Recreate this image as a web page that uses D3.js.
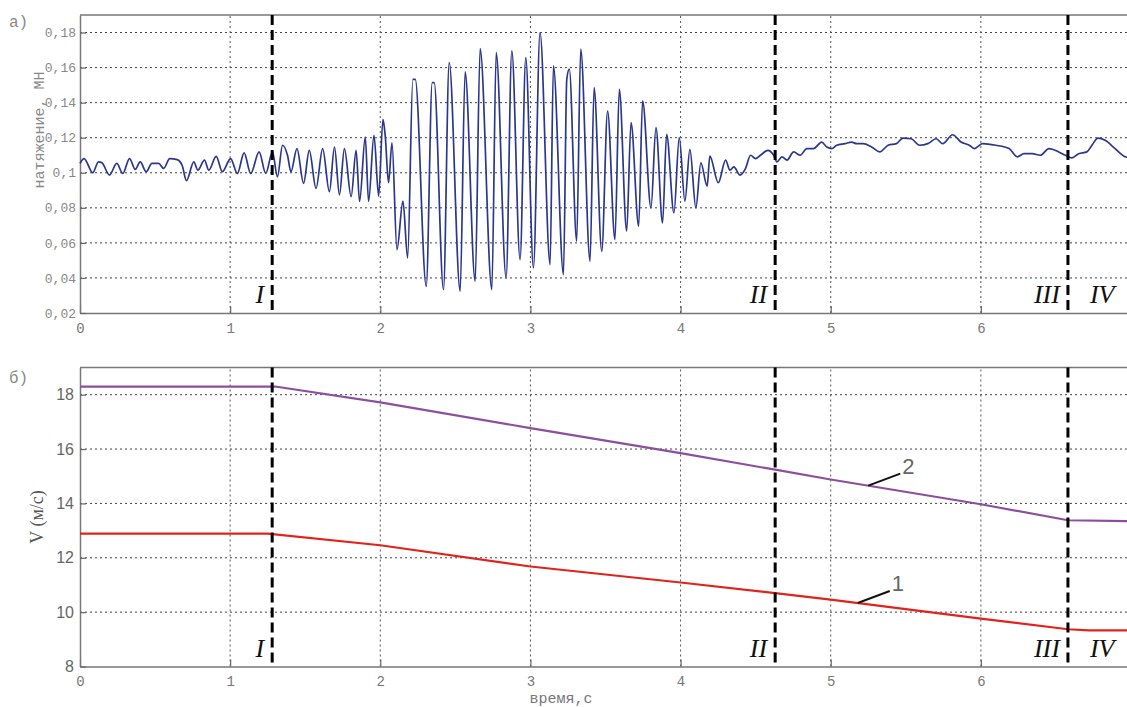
<!DOCTYPE html>
<html>
<head>
<meta charset="utf-8">
<script src="https://cdn.jsdelivr.net/npm/d3@7"></script>
<style>
  body { margin: 0; background: #fff; }
  svg { display: block; }
</style>
</head>
<body>
<svg id="chart" width="1127" height="707"></svg>
<script>
// ---- data ----------------------------------------------------------------
// (a) rope tension, MN, against time, s
const tensionTime = [
  0.000, 0.027, 0.085, 0.123, 0.145, 0.196, 0.245, 0.285, 0.330, 0.368,
  0.401, 0.441, 0.479, 0.524, 0.557, 0.598, 0.647, 0.680, 0.709, 0.758,
  0.785, 0.829, 0.858, 0.907, 0.948, 1.003, 1.048, 1.093, 1.137, 1.193,
  1.237, 1.282, 1.315, 1.349, 1.382, 1.405, 1.445, 1.489, 1.527, 1.572,
  1.616, 1.661, 1.695, 1.728, 1.761, 1.806, 1.839, 1.862, 1.900, 1.922,
  1.958, 1.989, 2.018, 2.033, 2.055, 2.078, 2.111, 2.151, 2.182, 2.217,
  2.233, 2.306, 2.346, 2.359, 2.421, 2.459, 2.532, 2.565, 2.632, 2.665,
  2.743, 2.772, 2.838, 2.876, 2.931, 2.969, 3.020, 3.064, 3.131, 3.153,
  3.220, 3.242, 3.259, 3.308, 3.335, 3.397, 3.424, 3.475, 3.514, 3.563,
  3.592, 3.641, 3.670, 3.721, 3.747, 3.803, 3.836, 3.880, 3.907, 3.956,
  3.991, 4.029, 4.062, 4.102, 4.135, 4.177, 4.195, 4.251, 4.300, 4.329,
  4.355, 4.395, 4.433, 4.466, 4.499, 4.532, 4.581, 4.620, 4.642, 4.675,
  4.709, 4.753, 4.797, 4.841, 4.885, 4.940, 4.974, 5.007, 5.040, 5.095,
  5.139, 5.172, 5.216, 5.272, 5.327, 5.382, 5.437, 5.481, 5.536, 5.592,
  5.647, 5.702, 5.746, 5.812, 5.868, 5.923, 5.956, 6.011, 6.099, 6.188,
  6.243, 6.287, 6.342, 6.397, 6.453, 6.519, 6.563, 6.607, 6.651, 6.706,
  6.740, 6.779, 6.828, 6.894, 6.962, 7.000
];
const tensionValue = [
  0.1053, 0.1081, 0.1000, 0.1062, 0.1058, 0.0987, 0.1053, 0.0996, 0.1081, 0.1019,
  0.1062, 0.1006, 0.1053, 0.1053, 0.1025, 0.1081, 0.1075, 0.1043, 0.0955, 0.1062,
  0.1015, 0.1072, 0.1015, 0.1094, 0.1006, 0.1081, 0.0996, 0.1113, 0.0996, 0.1119,
  0.0996, 0.1119, 0.0977, 0.1157, 0.1100, 0.1006, 0.1138, 0.0940, 0.1128, 0.0911,
  0.1138, 0.0892, 0.1147, 0.0874, 0.1138, 0.0864, 0.1128, 0.0836, 0.1204, 0.0836,
  0.1213, 0.0867, 0.1305, 0.1210, 0.0943, 0.1171, 0.0562, 0.0838, 0.0514, 0.1533,
  0.1533, 0.0352, 0.1514, 0.1514, 0.0333, 0.1629, 0.0324, 0.1575, 0.0381, 0.1709,
  0.0333, 0.1686, 0.0400, 0.1695, 0.0505, 0.1657, 0.0457, 0.1800, 0.0476, 0.1610,
  0.0419, 0.1533, 0.1591, 0.0610, 0.1705, 0.0495, 0.1486, 0.0552, 0.1352, 0.0619,
  0.1476, 0.0667, 0.1286, 0.0695, 0.1410, 0.0800, 0.1257, 0.0714, 0.1219, 0.0771,
  0.1200, 0.0838, 0.1133, 0.0800, 0.1057, 0.0924, 0.1095, 0.0943, 0.1072, 0.1015,
  0.1034, 0.0987, 0.1025, 0.1100, 0.1081, 0.1100, 0.1128, 0.1100, 0.1062, 0.1091,
  0.1072, 0.1119, 0.1100, 0.1138, 0.1138, 0.1175, 0.1147, 0.1138, 0.1157, 0.1166,
  0.1175, 0.1166, 0.1166, 0.1147, 0.1119, 0.1157, 0.1166, 0.1198, 0.1194, 0.1157,
  0.1166, 0.1194, 0.1166, 0.1217, 0.1175, 0.1157, 0.1138, 0.1166, 0.1157, 0.1138,
  0.1091, 0.1109, 0.1109, 0.1100, 0.1138, 0.1119, 0.1100, 0.1085, 0.1109, 0.1119,
  0.1157, 0.1198, 0.1185, 0.1138, 0.1091, 0.1085
];

// (б) speed, m/s: curve 1 (red) and curve 2 (purple)
const speedTime1  = [0, 1.25, 2, 3, 4, 4.63, 5, 6, 6.58, 6.72, 7];
const speedValue1 = [12.89, 12.89, 12.46, 11.68, 11.09, 10.70, 10.46, 9.76, 9.37, 9.33, 9.33];
const speedTime2  = [0, 1.30, 2, 3, 4, 4.63, 5, 6, 6.58, 7];
const speedValue2 = [18.30, 18.30, 17.72, 16.77, 15.85, 15.24, 14.88, 13.97, 13.38, 13.35];

// phase boundaries and their labels
const phaseTimes  = [1.28, 4.63, 6.58];
const phaseLabels = ["I", "II", "III", "IV"];

// axis ticks
const timeTicks          = [0, 1, 2, 3, 4, 5, 6, 7];
const tensionTicks       = [0.02, 0.04, 0.06, 0.08, 0.10, 0.12, 0.14, 0.16, 0.18];
const tensionTickLabels  = ["0,02", "0,04", "0,06", "0,08", "0,1", "0,12", "0,14", "0,16", "0,18"];
const speedTicks         = [8, 10, 12, 14, 16, 18];

// curve number callouts
const curveNames = ["1", "2"];
const curveCalloutTime = [5.18, 5.25];

// ---- layout ----------------------------------------------------------------
const svg = d3.select("#chart");
const MONO = "'Liberation Mono', 'DejaVu Sans Mono', monospace";
const SANS = "'Liberation Sans', Arial, sans-serif";
const SERIF = "'Liberation Serif', 'Times New Roman', serif";

const x = d3.scaleLinear().domain([0, 7]).range([80, 1131]);
const yTop = d3.scaleLinear().domain([0.02, 0.19]).range([313, 15]);
const yBot = d3.scaleLinear().domain([8, 19]).range([666.5, 367.5]);

function drawPanel(yScale, yTicks, yFmt, opts) {
  const g = svg.append("g");
  const [y0, y1] = yScale.range();        // bottom, top
  const [x0, x1] = x.range();

  // grid
  g.append("g").selectAll("line")
    .data(yTicks.filter(v => v !== yScale.domain()[0]))
    .join("line")
    .attr("x1", x0).attr("x2", x1)
    .attr("y1", d => yScale(d)).attr("y2", d => yScale(d))
    .attr("stroke", "#444").attr("stroke-width", 1)
    .attr("stroke-dasharray", "2,3");
  g.append("g").selectAll("line")
    .data(timeTicks.filter(t => t > 0 && t < 7))
    .join("line")
    .attr("x1", d => x(d)).attr("x2", d => x(d))
    .attr("y1", y0).attr("y2", y1)
    .attr("stroke", "#555").attr("stroke-width", 1)
    .attr("stroke-dasharray", "2,3");

  // axes with inward ticks
  const ax = g.append("g").attr("transform", `translate(0,${y0})`)
    .call(d3.axisBottom(x).tickValues(timeTicks).tickSizeInner(-7).tickSizeOuter(0).tickPadding(10)
      .tickFormat(d3.format("d")));
  ax.select(".domain").attr("stroke", "#777").attr("stroke-width", 1.5);
  ax.selectAll(".tick line").attr("stroke", "#666").attr("stroke-width", 1.2);
  ax.selectAll(".tick text").attr("fill", "#777")
    .style("font-family", MONO).style("font-size", "14px");

  const ay = g.append("g").attr("transform", `translate(${x0},0)`)
    .call(d3.axisLeft(yScale).tickValues(yTicks).tickSizeInner(-6).tickSizeOuter(0).tickPadding(opts.tickPad)
      .tickFormat(yFmt));
  ay.select(".domain").attr("stroke", "#777").attr("stroke-width", 1.5);
  ay.selectAll(".tick line").attr("stroke", "#666").attr("stroke-width", 1.2);
  ay.selectAll(".tick text").attr("fill", opts.tickColor)
    .style("font-family", opts.tickFont).style("font-size", opts.tickSize);

  // top and right border
  g.append("line").attr("x1", x0).attr("x2", x1).attr("y1", y1).attr("y2", y1)
    .attr("stroke", "#777").attr("stroke-width", 1.5);
  g.append("line").attr("x1", x1).attr("x2", x1).attr("y1", y1).attr("y2", y0)
    .attr("stroke", "#777").attr("stroke-width", 1.5);

  return g;
}

function drawPhases(g, yScale) {
  const [y0, y1] = yScale.range();
  g.append("g").selectAll("line")
    .data(phaseTimes)
    .join("line")
    .attr("x1", d => x(d)).attr("x2", d => x(d))
    .attr("y1", y1).attr("y2", y0)
    .attr("stroke", "#000").attr("stroke-width", 3)
    .attr("stroke-dasharray", "10,5");
  const labelY = y0 - 10;
  const labels = g.append("g")
    .style("font-family", SERIF).style("font-style", "italic")
    .style("font-size", "26px").attr("fill", "#111");
  phaseTimes.forEach((t, i) => {
    labels.append("text").attr("x", x(t) - 8).attr("y", labelY)
      .attr("text-anchor", "end").text(phaseLabels[i]);
  });
  labels.append("text").attr("x", x(phaseTimes[2]) + 22).attr("y", labelY)
    .attr("text-anchor", "start").text(phaseLabels[3]);
}

// ---- panel (a): tension ----------------------------------------------------
const gTop = drawPanel(yTop, tensionTicks, (d, i) => tensionTickLabels[i],
  { tickPad: 4, tickColor: "#888", tickFont: MONO, tickSize: "13px" });

const tension = tensionTime.map((t, i) => [t, tensionValue[i]]);
gTop.append("path")
  .datum(tension)
  .attr("fill", "none")
  .attr("stroke", "#2b378c")
  .attr("stroke-width", 1.7)
  .attr("stroke-linejoin", "round")
  .attr("d", d3.line().curve(d3.curveMonotoneX).x(d => x(d[0])).y(d => yTop(d[1])));

drawPhases(gTop, yTop);

gTop.append("text")
  .attr("transform", `translate(44,${(yTop(0.02) + yTop(0.19)) / 2 - 34}) rotate(-90)`)
  .attr("text-anchor", "middle")
  .attr("fill", "#888")
  .style("font-family", MONO).style("font-size", "15px")
  .text("натяжение, МН");

svg.append("text").attr("x", 9).attr("y", 27)
  .attr("fill", "#888").style("font-family", MONO).style("font-size", "16px")
  .text("а)");

// ---- panel (б): speed ------------------------------------------------------
const gBot = drawPanel(yBot, speedTicks, d3.format("d"),
  { tickPad: 6, tickColor: "#666", tickFont: SANS, tickSize: "16px" });

const speedLine = d3.line().x(d => x(d[0])).y(d => yBot(d[1]));
const curve2 = speedTime2.map((t, i) => [t, speedValue2[i]]);
const curve1 = speedTime1.map((t, i) => [t, speedValue1[i]]);

gBot.append("path").datum(curve2)
  .attr("fill", "none").attr("stroke", "#8c4f9e").attr("stroke-width", 2.2)
  .attr("d", speedLine);
gBot.append("path").datum(curve1)
  .attr("fill", "none").attr("stroke", "#e0241c").attr("stroke-width", 2.2)
  .attr("d", speedLine);

drawPhases(gBot, yBot);

// curve callouts with leader lines
const valueAt = (ts, vs, t) => {
  const i = d3.bisectRight(ts, t) - 1;
  const f = (t - ts[i]) / (ts[i + 1] - ts[i]);
  return vs[i] + f * (vs[i + 1] - vs[i]);
};
[[speedTime1, speedValue1], [speedTime2, speedValue2]].forEach(([ts, vs], i) => {
  const t = curveCalloutTime[i];
  const px = x(t), py = yBot(valueAt(ts, vs, t));
  gBot.append("line")
    .attr("x1", px).attr("y1", py)
    .attr("x2", px + 32).attr("y2", py - 12)
    .attr("stroke", "#111").attr("stroke-width", 2);
  gBot.append("text")
    .attr("x", px + 34).attr("y", py - 12)
    .attr("fill", "#666")
    .style("font-family", SANS).style("font-size", "22px")
    .text(curveNames[i]);
});

gBot.append("text")
  .attr("transform", `translate(43,${(yBot(8) + yBot(19)) / 2}) rotate(-90)`)
  .attr("text-anchor", "middle")
  .attr("fill", "#555")
  .style("font-family", SERIF).style("font-size", "18px")
  .text("V (м/с)");

svg.append("text").attr("x", 9).attr("y", 383)
  .attr("fill", "#888").style("font-family", MONO).style("font-size", "16px")
  .text("б)");

svg.append("text").attr("x", 561).attr("y", 703)
  .attr("text-anchor", "middle")
  .attr("fill", "#777").style("font-family", MONO).style("font-size", "15px")
  .text("время,с");
</script>
</body>
</html>
